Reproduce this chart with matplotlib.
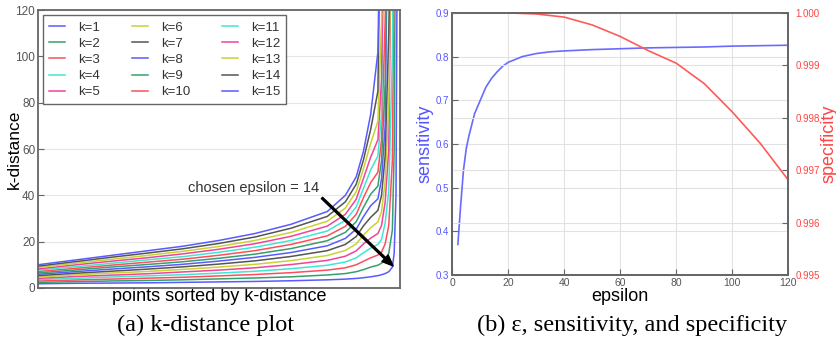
import numpy as np
import matplotlib
matplotlib.use("Agg")
import matplotlib.pyplot as plt

plt.rcParams["font.family"] = ["Liberation Sans", "DejaVu Sans"]

# ---- panel (a): sorted k-distance curves, x as fraction of points ----
frac = [0.0, 0.1, 0.2, 0.3, 0.4, 0.5, 0.6, 0.7, 0.8,
        0.85, 0.88, 0.90, 0.92, 0.94, 0.95, 0.96, 0.97, 0.98, 0.985, 0.99, 0.995, 1.0]

kdist = [
    [1.8, 2.0, 2.1, 2.2, 2.4, 2.6, 2.8, 3.1, 3.5, 3.8, 4.1, 4.4, 4.8, 5.3, 5.7, 6.2, 7.0, 9.0, 15, 40, 200, 200],
    [2.4, 2.7, 3.0, 3.2, 3.5, 3.9, 4.3, 4.8, 5.6, 6.2, 7.0, 7.9, 9.0, 9.8, 10.7, 12, 15, 25, 60, 200, 200, 200],
    [3.0, 3.4, 3.8, 4.2, 4.6, 5.2, 5.8, 6.6, 7.7, 8.7, 10.0, 11.5, 13.0, 14.2, 15.5, 19, 27, 55, 150, 200, 200, 200],
    [3.6, 4.1, 4.7, 5.2, 5.7, 6.4, 7.2, 8.3, 9.8, 11.2, 13.0, 15.2, 17.2, 18.8, 21, 28, 42, 100, 200, 200, 200, 200],
    [4.1, 4.9, 5.5, 6.1, 6.9, 7.7, 8.7, 10.1, 11.9, 13.7, 16.0, 19.0, 21.5, 23.5, 27, 37, 60, 200, 200, 200, 200, 200],
    [4.7, 5.6, 6.4, 7.1, 8.0, 9.0, 10.2, 11.8, 14.0, 16.2, 19.0, 22.8, 26, 28.5, 33, 46, 80, 200, 200, 200, 200, 200],
    [5.3, 6.3, 7.2, 8.1, 9.1, 10.3, 11.7, 13.6, 16.1, 18.8, 22.2, 26.8, 30.5, 33.5, 40, 57, 110, 200, 200, 200, 200, 200],
    [5.9, 7.0, 8.1, 9.1, 10.2, 11.6, 13.2, 15.3, 18.2, 21.4, 25.4, 30.8, 35.5, 38.5, 47, 70, 200, 200, 200, 200, 200, 200],
    [6.5, 7.7, 9.0, 10.1, 11.3, 12.8, 14.6, 17.0, 20.4, 24.0, 28.6, 34.8, 40.5, 44, 55, 88, 200, 200, 200, 200, 200, 200],
    [7.1, 8.4, 9.8, 11.1, 12.4, 14.1, 16.1, 18.8, 22.5, 26.6, 31.8, 39.0, 45.5, 50, 64, 115, 200, 200, 200, 200, 200, 200],
    [7.7, 9.1, 10.6, 12.1, 13.5, 15.4, 17.6, 20.5, 24.6, 29.2, 35.0, 43.0, 51, 57, 75, 200, 200, 200, 200, 200, 200, 200],
    [8.2, 9.9, 11.5, 13.0, 14.7, 16.7, 19.1, 22.3, 26.7, 31.8, 38.3, 47.3, 56.5, 64, 90, 200, 200, 200, 200, 200, 200, 200],
    [8.8, 10.6, 12.3, 14.0, 15.8, 17.9, 20.5, 24.0, 28.8, 34.5, 41.6, 51.5, 62.5, 72, 115, 200, 200, 200, 200, 200, 200, 200],
    [9.4, 11.3, 13.2, 15.0, 16.9, 19.2, 22.0, 25.8, 30.9, 37.2, 44.8, 55.3, 68.5, 85, 200, 200, 200, 200, 200, 200, 200, 200],
    [10.0, 12.0, 14.0, 16.0, 18.0, 20.5, 23.5, 27.5, 33.0, 40.0, 48.0, 59.0, 75, 102, 200, 200, 200, 200, 200, 200, 200, 200],
]
k_labels = [f"k={k}" for k in range(1, 16)]
k_colors = ["#5a5aff", "#35a06a", "#ff4d5e", "#3ee8d0", "#f0449a", "#c8d234", "#555555"]

# ---- panel (b): epsilon vs sensitivity / specificity ----
eps_sens = [2, 3, 4, 5, 6, 8, 10, 12, 14, 16, 18, 20, 25, 30, 35, 40, 50, 60, 70, 80, 90, 100, 110, 120]
sensitivity = [0.37, 0.46, 0.54, 0.59, 0.62, 0.67, 0.70, 0.73, 0.75, 0.765, 0.778, 0.787,
               0.800, 0.807, 0.811, 0.813, 0.816, 0.818, 0.820, 0.821, 0.822, 0.824, 0.825, 0.826]
eps_spec = [2, 10, 20, 25, 30, 40, 50, 60, 70, 80, 90, 100, 110, 120]
specificity = [1.0, 1.0, 1.0, 0.99999, 0.99998, 0.99992, 0.99977, 0.99955,
               0.99928, 0.99904, 0.99865, 0.99811, 0.99751, 0.99681]

grey = "#555555"
fig = plt.figure(figsize=(8.36, 3.49), dpi=100)

def style(ax):
    for s in ax.spines.values():
        s.set_color("#666666")
        s.set_linewidth(1.3)
    ax.tick_params(direction="in", length=4, color="#666666", labelcolor=grey, pad=2)

# (a)
ax1 = fig.add_axes([0.0455, 0.175, 0.4325, 0.796])
style(ax1)
ax1.tick_params(labelsize=8.5)
for i, row in enumerate(kdist):
    ax1.plot(frac, row, color=k_colors[i % len(k_colors)], lw=1.1, label=k_labels[i])
ax1.set_xlim(0, 1)
ax1.set_ylim(0, 120)
ax1.set_xticks([])
ax1.set_yticks(range(0, 121, 20))
ax1.grid(axis="y", color="#e6e6e6", lw=0.8)
ax1.set_axisbelow(True)
ax1.set_ylabel("k-distance", fontsize=12.5)
ax1.yaxis.set_label_coords(-0.046, 0.5)
ax1.set_xlabel("points sorted by k-distance", fontsize=13, labelpad=0)
leg = ax1.legend(ncol=3, loc="upper left", fontsize=9.5, handlelength=1.2, handletextpad=1.0,
                 labelspacing=0.3, columnspacing=2.4, borderpad=0.45, fancybox=False,
                 framealpha=1, borderaxespad=0.4)
leg.get_frame().set_edgecolor("#666666")
leg.get_frame().set_linewidth(1.0)
for t in leg.get_texts():
    t.set_color("#333333")
ax1.annotate("chosen epsilon = 14", xy=(0.982, 9.5), xytext=(0.415, 40),
             fontsize=10.5, color="#333333", va="bottom",
             arrowprops=dict(facecolor="black", edgecolor="black", width=1.3,
                             headwidth=6.5, headlength=8, shrink=0))

# (b)
ax2 = fig.add_axes([0.541, 0.212, 0.402, 0.751])
style(ax2)
ax2.plot(eps_sens, sensitivity, color="#6a6aff", lw=1.2)
ax2.set_xlim(0, 120)
ax2.set_ylim(0.3, 0.9)
ax2.set_xticks(range(0, 121, 20))
ax2.set_yticks(np.arange(0.3, 0.91, 0.1))
ax2.set_yticklabels([f"{v:.1f}" for v in np.arange(0.3, 0.91, 0.1)])
ax2.tick_params(axis="y", labelcolor="#5555ff", labelsize=7)
ax2.tick_params(axis="x", labelsize=7.5)
ax2.grid(color="#e2e2e2", lw=0.8)
ax2.set_xlabel("epsilon", fontsize=13, labelpad=0)
ax2.set_ylabel("sensitivity", fontsize=13, color="#5555ff")
ax2.yaxis.set_label_coords(-0.057, 0.5)

ax3 = ax2.twinx()
style(ax3)
ax3.plot(eps_spec, specificity, color="#ff5a5a", lw=1.2)
ax3.set_ylim(0.995, 1.0)
ax3.set_yticks(np.arange(0.995, 1.0001, 0.001))
ax3.set_yticklabels([f"{v:.3f}" for v in np.arange(0.995, 1.0001, 0.001)])
ax3.tick_params(axis="y", labelcolor="#ff4444", labelsize=7, pad=5)
ax3.grid(axis="y", color="#e2e2e2", lw=0.8)
ax3.set_ylabel("specificity", fontsize=13, color="#ff4444")
ax3.yaxis.set_label_coords(1.095, 0.5)

# captions
fig.text(0.246, 0.069, "(a) k-distance plot", ha="center", va="center",
         fontsize=17.5, family="Liberation Serif")
fig.text(0.756, 0.069, "(b) \u03b5, sensitivity, and specificity", ha="center", va="center",
         fontsize=17.5, family="Liberation Serif")

fig.savefig("out.png", dpi=100)
